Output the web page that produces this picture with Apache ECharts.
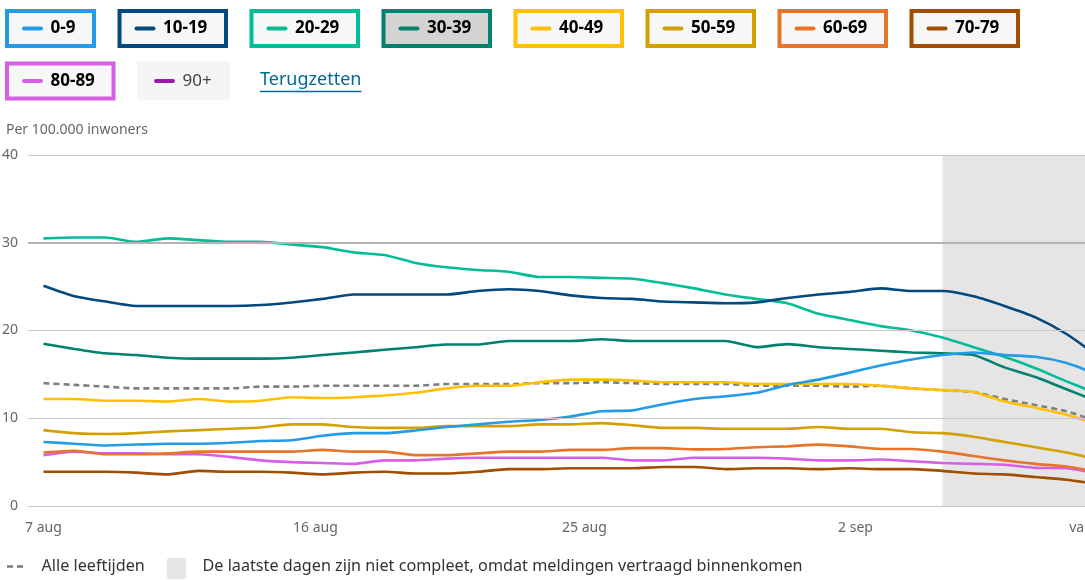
<!DOCTYPE html>
<html>
<head>
<meta charset="utf-8">
<script src="https://cdn.jsdelivr.net/npm/echarts@6/dist/echarts.min.js"></script>
<style>
  html, body { margin: 0; padding: 0; background: #fff; }
  #chart { width: 1085px; height: 580px; }
</style>
</head>
<body>
<div id="chart"></div>
<script>
// ---------- DATA ----------
const categories = ['7 aug','8 aug','9 aug','10 aug','11 aug','12 aug','13 aug','14 aug','15 aug','16 aug',
  '17 aug','18 aug','19 aug','20 aug','21 aug','22 aug','23 aug','24 aug','25 aug','26 aug','27 aug',
  '28 aug','29 aug','30 aug','31 aug','1 sep','2 sep','3 sep','4 sep','5 sep','6 sep','7 sep','8 sep',
  '9 sep','10 sep'];
const tickLabels = ['7 aug','16 aug','25 aug','2 sep'];
const lastTickLabel = 'vandaag';
const incompleteFrom = '5 sep';

const ageGroups = ['0-9','10-19','20-29','30-39','40-49','50-59','60-69','70-79','80-89','90+'];
const allAgesName = 'Alle leeftijden';

const v0_9   = [7.3,7.1,6.9,7.0,7.1,7.1,7.2,7.4,7.5,8.0,8.3,8.3,8.6,9.0,9.3,9.6,9.8,10.2,10.8,10.9,11.6,12.2,12.5,12.9,13.8,14.4,15.2,16.0,16.7,17.2,17.5,17.2,17.0,16.3,15.0];
const v10_19 = [25.1,23.9,23.3,22.8,22.8,22.8,22.8,22.9,23.2,23.6,24.1,24.1,24.1,24.1,24.5,24.7,24.5,24.0,23.7,23.6,23.3,23.2,23.1,23.2,23.7,24.1,24.4,24.8,24.5,24.5,23.9,22.8,21.5,19.6,17.1];
const v20_29 = [30.5,30.6,30.6,30.1,30.5,30.3,30.1,30.1,29.8,29.5,28.9,28.6,27.7,27.2,26.9,26.7,26.1,26.1,26.0,25.9,25.4,24.8,24.1,23.6,23.1,21.9,21.2,20.5,20.0,19.2,18.1,17.0,15.7,14.2,12.8];
const v30_39 = [18.5,17.9,17.4,17.2,16.9,16.8,16.8,16.8,16.9,17.2,17.5,17.8,18.1,18.4,18.4,18.8,18.8,18.8,19.0,18.8,18.8,18.8,18.8,18.1,18.45,18.1,17.9,17.7,17.5,17.4,17.2,15.8,14.7,13.3,11.9];
const v40_49 = [12.2,12.2,12.0,12.0,11.9,12.2,11.9,12.0,12.4,12.3,12.4,12.6,12.9,13.4,13.7,13.7,14.1,14.4,14.4,14.3,14.1,14.1,14.1,13.9,13.9,13.9,13.9,13.7,13.4,13.2,13.0,11.9,11.2,10.4,9.3];
const v50_59 = [8.65,8.3,8.2,8.3,8.5,8.65,8.8,8.95,9.3,9.3,9.0,8.9,8.9,9.1,9.1,9.1,9.3,9.3,9.45,9.2,8.9,8.9,8.8,8.8,8.8,9.0,8.8,8.8,8.4,8.3,7.9,7.3,6.7,6.1,5.3];
const v60_69 = [6.1,6.3,5.9,5.9,6.0,6.2,6.2,6.2,6.2,6.4,6.2,6.2,5.8,5.8,6.0,6.2,6.2,6.4,6.4,6.6,6.6,6.45,6.5,6.7,6.8,7.0,6.8,6.5,6.5,6.2,5.7,5.2,4.8,4.5,3.9];
const v70_79 = [3.9,3.9,3.9,3.8,3.6,4.0,3.9,3.9,3.8,3.6,3.8,3.9,3.7,3.7,3.9,4.2,4.2,4.3,4.3,4.3,4.45,4.45,4.2,4.3,4.3,4.2,4.3,4.2,4.2,4.0,3.7,3.6,3.3,3.0,2.5];
const v80_89 = [5.8,6.2,6.0,6.0,5.9,5.9,5.6,5.2,5.0,4.9,4.8,5.2,5.2,5.4,5.5,5.5,5.5,5.5,5.5,5.2,5.2,5.5,5.5,5.5,5.4,5.2,5.2,5.3,5.1,4.9,4.8,4.7,4.35,4.3,3.7];
const vAll   = [14.0,13.8,13.6,13.4,13.4,13.4,13.4,13.6,13.6,13.7,13.7,13.7,13.7,13.9,13.9,13.9,14.0,14.0,14.1,14.0,13.9,13.9,13.9,13.7,13.7,13.7,13.6,13.7,13.4,13.2,13.0,12.2,11.5,10.8,9.6];

const yTicks = [0, 10, 20, 30, 40];
const yAxisTitle = 'Per 100.000 inwoners';
const resetText = 'Terugzetten';
const incompleteText = 'De laatste dagen zijn niet compleet, omdat meldingen vertraagd binnenkomen';

// ---------- STYLE ----------
const groupValues = [v0_9, v10_19, v20_29, v30_39, v40_49, v50_59, v60_69, v70_79, v80_89, null];
const groupColors = ['#239BE6','#01497F','#00BD98','#00826E','#FFC000','#D3A000','#E6742A','#A14E00','#D65FE6','#9A1AA8'];
const activeGroups = [true,true,true,true,true,true,true,true,true,false];
const hoverIndex = 3;
const FONT = "'Noto Sans', 'Open Sans', sans-serif";
const labelShift = {'16 aug': -7, '25 aug': -17, '2 sep': 6};

// ---------- LEGEND GRAPHICS ----------
const mctx = document.createElement('canvas').getContext('2d');
function textW(t, font) { mctx.font = font; return mctx.measureText(t).width; }

const graphics = [];
const boxH = 39, gap = 21.5;
function boxWidth(label) {
  if (label === '0-9') return 91;
  if (label === '90+') return 93;
  return 110.5;
}
let bx = 5, by = 9;
ageGroups.forEach((g, i) => {
  if (i === 8) { bx = 5; by = 61.5; }
  const w = boxWidth(g);
  const cy = by + boxH / 2;
  const active = activeGroups[i];
  graphics.push({
    type: 'rect', silent: true,
    shape: active ? { x: bx + 2, y: by + 2, width: w - 4, height: boxH - 4 } : { x: bx, y: by, width: w, height: boxH },
    style: { fill: i === hoverIndex ? '#d3d3d3' : (active ? '#f7f7f7' : '#f5f5f5'),
             stroke: active ? groupColors[i] : null, lineWidth: 4 }
  });
  graphics.push({
    type: 'line', silent: true,
    shape: { x1: bx + 19, y1: cy, x2: bx + 36, y2: cy },
    style: { stroke: groupColors[i], lineWidth: 4, lineCap: 'round' }
  });
  graphics.push({
    type: 'text', silent: true, x: bx + 45.5, y: cy,
    style: { text: g, font: (active ? 'bold ' : '') + '17px ' + FONT,
             fill: active ? '#000' : '#444', textAlign: 'left', textVerticalAlign: 'middle' }
  });
  bx += w + gap;
});
// reset link
const resetFont = '18px ' + FONT;
const resetX = 260, resetY = 79.5;
graphics.push({ type: 'text', silent: true, x: resetX, y: resetY,
  style: { text: resetText, font: resetFont, fill: '#01689B', textAlign: 'left', textVerticalAlign: 'middle' } });
graphics.push({ type: 'line', silent: true,
  shape: { x1: resetX, y1: 91.5, x2: resetX + textW(resetText, resetFont), y2: 91.5 },
  style: { stroke: '#01689B', lineWidth: 1.5 } });
// y axis title
graphics.push({ type: 'text', silent: true, x: 6, y: 130,
  style: { text: yAxisTitle, font: '14px ' + FONT, fill: '#666', textAlign: 'left', textVerticalAlign: 'middle' } });
// bottom legend
graphics.push({ type: 'line', silent: true, shape: { x1: 7, y1: 566.5, x2: 23, y2: 566.5 },
  style: { stroke: '#7a7a7a', lineWidth: 2.5, lineDash: [6, 4] } });
graphics.push({ type: 'text', silent: true, x: 41.5, y: 566,
  style: { text: allAgesName, font: '16.2px ' + FONT, fill: '#333', textAlign: 'left', textVerticalAlign: 'middle' } });
graphics.push({ type: 'rect', silent: true, shape: { x: 167, y: 558, width: 19, height: 21, r: 2 },
  style: { fill: '#e5e5e5' } });
graphics.push({ type: 'text', silent: true, x: 202.5, y: 566,
  style: { text: incompleteText, font: '16.2px ' + FONT, fill: '#333', textAlign: 'left', textVerticalAlign: 'middle' } });

// ---------- SERIES ----------
const series = [];
series.push({
  type: 'line', name: '_area', data: [], z: 1, silent: true,
  markArea: { silent: true, itemStyle: { color: '#e5e5e5' },
    data: [[{ xAxis: incompleteFrom }, { xAxis: categories[categories.length - 1] }]] }
});
series.push({
  type: 'line', name: '_grid', data: [], z: 1, silent: true,
  markLine: { silent: true, symbol: ['none', 'none'], label: { show: false },
    data: yTicks.map(v => ({ yAxis: v, lineStyle: { color: v === 30 ? '#b4b4b4' : '#c8c8c8', width: v === 30 ? 2 : 1, type: 'solid' } })) }
});
series.push({
  type: 'line', name: allAgesName, data: vAll, z: 3, showSymbol: false, smooth: 0.2, silent: true,
  lineStyle: { color: '#7f7f7f', width: 2.6, type: [6, 4] }
});
for (let i = ageGroups.length - 1; i >= 0; i--) {
  if (!activeGroups[i] || !groupValues[i]) continue;
  series.push({
    type: 'line', name: ageGroups[i], data: groupValues[i], z: 3, showSymbol: false, smooth: 0.2, silent: true,
    lineStyle: { color: groupColors[i], width: 2.6 }
  });
}

// ---------- CHART ----------
const chart = echarts.init(document.getElementById('chart'), null, { renderer: 'canvas' });
const rich = {};
Object.keys(labelShift).forEach((k, i) => {
  const s = labelShift[k];
  rich['s' + i] = { fontSize: 14, color: '#666', fontFamily: FONT,
    padding: s < 0 ? [0, -2 * s, 0, 0] : [0, 0, 0, 2 * s] };
});
chart.setOption({
  animation: false,
  backgroundColor: '#fff',
  textStyle: { fontFamily: FONT },
  grid: { left: 28, right: -28, top: 155, bottom: 74, containLabel: false, outerBoundsMode: 'none' },
  xAxis: {
    type: 'category', data: categories, boundaryGap: true,
    axisLine: { show: true, lineStyle: { color: '#c8c8c8' } },
    axisTick: { show: false },
    splitLine: { show: false },
    axisLabel: {
      interval: 0, margin: 15, fontSize: 14, color: '#666', fontFamily: FONT, hideOverlap: false,
      rich: rich,
      formatter: function (val, idx) {
        if (idx === categories.length - 1) return lastTickLabel;
        if (tickLabels.indexOf(val) < 0) return '';
        const keys = Object.keys(labelShift);
        const k = keys.indexOf(val);
        return k >= 0 ? '{s' + k + '|' + val + '}' : val;
      }
    }
  },
  yAxis: {
    type: 'value', min: 0, max: 40, interval: 10,
    axisLine: { show: false }, axisTick: { show: false },
    splitLine: { show: true, lineStyle: { color: '#c8c8c8' } },
    axisLabel: { fontSize: 14, color: '#666', margin: 10, fontFamily: FONT }
  },
  graphic: graphics,
  series: series
});
</script>
</body>
</html>
